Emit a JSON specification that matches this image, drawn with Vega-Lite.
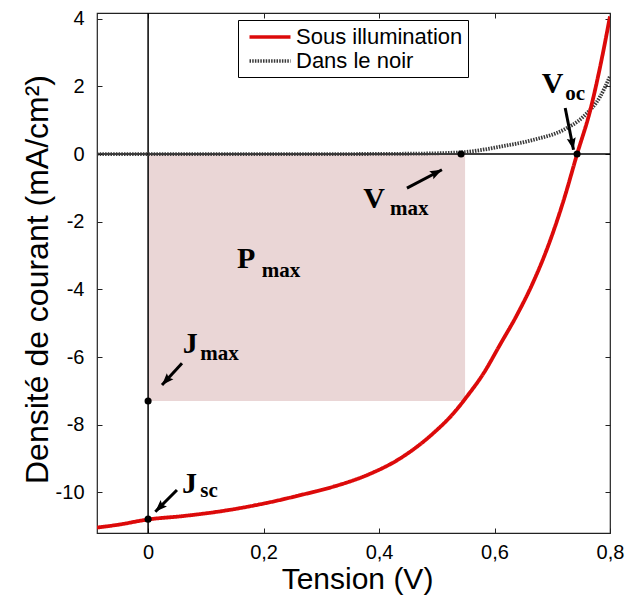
{
  "$schema": "https://vega.github.io/schema/vega-lite/v6.json",
  "width": 513,
  "height": 520,
  "autosize": {"type": "none"},
  "padding": {"left": 97, "top": 13, "right": 17, "bottom": 63},
  "background": "white",
  "config": {
    "view": {"stroke": "#222", "strokeWidth": 1.2},
    "font": "Liberation Sans"
  },
  "datasets": {
    "curves": [
      {"V": -0.0885, "J": 0, "series": "Dans le noir"},
      {"V": 0.3, "J": 0, "series": "Dans le noir"},
      {"V": 0.45, "J": 0.01, "series": "Dans le noir"},
      {"V": 0.541, "J": 0.05, "series": "Dans le noir"},
      {"V": 0.61, "J": 0.22, "series": "Dans le noir"},
      {"V": 0.667, "J": 0.42, "series": "Dans le noir"},
      {"V": 0.72, "J": 0.72, "series": "Dans le noir"},
      {"V": 0.754, "J": 1.11, "series": "Dans le noir"},
      {"V": 0.783, "J": 1.7, "series": "Dans le noir"},
      {"V": 0.8, "J": 2.3, "series": "Dans le noir"},
      {"V": -0.0885, "J": -11.04, "series": "Sous illumination"},
      {"V": -0.05, "J": -10.95, "series": "Sous illumination"},
      {"V": 0, "J": -10.8, "series": "Sous illumination"},
      {"V": 0.06, "J": -10.7, "series": "Sous illumination"},
      {"V": 0.14, "J": -10.52, "series": "Sous illumination"},
      {"V": 0.2, "J": -10.33, "series": "Sous illumination"},
      {"V": 0.264, "J": -10.08, "series": "Sous illumination"},
      {"V": 0.321, "J": -9.83, "series": "Sous illumination"},
      {"V": 0.379, "J": -9.49, "series": "Sous illumination"},
      {"V": 0.437, "J": -8.99, "series": "Sous illumination"},
      {"V": 0.494, "J": -8.25, "series": "Sous illumination"},
      {"V": 0.529, "J": -7.66, "series": "Sous illumination"},
      {"V": 0.552, "J": -7.17, "series": "Sous illumination"},
      {"V": 0.581, "J": -6.48, "series": "Sous illumination"},
      {"V": 0.61, "J": -5.62, "series": "Sous illumination"},
      {"V": 0.639, "J": -4.75, "series": "Sous illumination"},
      {"V": 0.665, "J": -3.86, "series": "Sous illumination"},
      {"V": 0.691, "J": -2.8, "series": "Sous illumination"},
      {"V": 0.72, "J": -1.35, "series": "Sous illumination"},
      {"V": 0.743, "J": 0, "series": "Sous illumination"},
      {"V": 0.766, "J": 1.31, "series": "Sous illumination"},
      {"V": 0.783, "J": 2.59, "series": "Sous illumination"},
      {"V": 0.8, "J": 4.07, "series": "Sous illumination"}
    ],
    "shade": [{"V0": 0, "V1": 0.549, "J0": 0, "J1": -7.3}],
    "keypoints": [
      {"name": "Jsc", "V": 0, "J": -10.79},
      {"name": "Jmax", "V": 0, "J": -7.3},
      {"name": "Vmax", "V": 0.542, "J": 0},
      {"name": "Voc", "V": 0.743, "J": 0}
    ],
    "arrows": [
      {"name": "Voc", "V0": 0.7224, "J0": 1.36, "V1": 0.7368, "J1": 0.127, "angle": 169},
      {"name": "Vmax", "V0": 0.4483, "J0": -1.006, "V1": 0.5089, "J1": -0.464, "angle": 62.8},
      {"name": "Jmax", "V0": 0.0587, "J0": -6.18, "V1": 0.0241, "J1": -6.825, "angle": 222.6},
      {"name": "Jsc", "V0": 0.05, "J0": -9.93, "V1": 0.0125, "J1": -10.57, "angle": 225}
    ],
    "labels": [
      {"V": 0.682, "J": 1.8, "text": "V", "part": "main"},
      {"V": 0.7224, "J": 1.61, "text": "oc", "part": "sub"},
      {"V": 0.3727, "J": -1.59, "text": "V", "part": "main"},
      {"V": 0.419, "J": -1.8, "text": "max", "part": "sub"},
      {"V": 0.154, "J": -3.37, "text": "P", "part": "main"},
      {"V": 0.197, "J": -3.62, "text": "max", "part": "sub"},
      {"V": 0.06, "J": -5.88, "text": "J", "part": "main"},
      {"V": 0.0904, "J": -6.09, "text": "max", "part": "sub"},
      {"V": 0.0587, "J": -10.02, "text": "J", "part": "main"},
      {"V": 0.0904, "J": -10.13, "text": "sc", "part": "sub"}
    ]
  },
  "resolve": {"axis": {"x": "independent", "y": "independent"}},
  "layer": [
    {
      "data": {"name": "shade"},
      "mark": {"type": "rect", "color": "#ead6d6"},
      "encoding": {
        "x": {
          "field": "V0", "type": "quantitative",
          "scale": {"domain": [-0.0885, 0.8], "nice": false, "zero": false},
          "axis": {
            "orient": "bottom", "values": [0, 0.2, 0.4, 0.6, 0.8],
            "labelExpr": "datum.value == 0 ? '0' : replace(format(datum.value, '.1f'), '.', ',')",
            "tickSize": -5, "labelPadding": 14, "labelFontSize": 20, "labelColor": "black",
            "labelFlush": false, "labelOverlap": false,
            "tickColor": "#222", "domain": false, "grid": false,
            "title": "Tension (V)", "titleFontSize": 30, "titleFontWeight": "normal", "titleColor": "black",
            "titleX": 260, "titleY": 55, "titleBaseline": "alphabetic", "titleAlign": "center"
          }
        },
        "x2": {"field": "V1"},
        "y": {
          "field": "J0", "type": "quantitative",
          "scale": {"domain": [-11.2, 4.17], "nice": false, "zero": false},
          "axis": {
            "orient": "left", "values": [-10, -8, -6, -4, -2, 0, 2, 4],
            "labelExpr": "'' + datum.value",
            "tickSize": -5, "labelPadding": 18, "labelFontSize": 20, "labelColor": "black",
            "labelFlush": false, "labelOverlap": false,
            "tickColor": "#222", "domain": false, "grid": false,
            "title": "Densité de courant (mA/cm²)", "titleFontSize": 32, "titleFontWeight": "normal", "titleColor": "black",
            "titleX": -50, "titleY": 266, "titleBaseline": "alphabetic", "titleAlign": "center", "titleAngle": -90
          }
        },
        "y2": {"field": "J1"}
      }
    },
    {
      "data": {"values": [{}]},
      "mark": {"type": "rule", "color": "black", "strokeWidth": 1.5},
      "encoding": {"x": {"datum": 0, "type": "quantitative", "axis": null}}
    },
    {
      "data": {"values": [{}]},
      "mark": {"type": "rule", "color": "black", "strokeWidth": 1.5},
      "encoding": {"y": {"datum": 0, "type": "quantitative", "axis": null}}
    },
    {
      "data": {"name": "curves"},
      "mark": {"type": "line", "strokeWidth": 3.8, "clip": true, "interpolate": "monotone"},
      "encoding": {
        "x": {"field": "V", "type": "quantitative", "axis": null},
        "y": {"field": "J", "type": "quantitative", "axis": null},
        "color": {
          "field": "series", "type": "nominal",
          "scale": {"domain": ["Sous illumination", "Dans le noir"], "range": ["#dc0a0a", "#3a3a3a"]},
          "legend": {
            "orient": "none", "legendX": 141, "legendY": 7, "title": null,
            "strokeColor": "black", "fillColor": "white", "padding": 5, "cornerRadius": 0,
            "labelFontSize": 22, "labelColor": "black", "labelFont": "Liberation Sans", "labelLimit": 400,
            "symbolType": "M-2,0H2", "symbolSize": 420, "symbolStrokeWidth": 3.5,
            "symbolOffset": 15, "labelOffset": 14, "rowPadding": 1
          }
        },
        "strokeDash": {
          "field": "series", "type": "nominal",
          "scale": {"domain": ["Sous illumination", "Dans le noir"], "range": [[1, 0], [1.5, 1.2]]},
          "legend": {
            "orient": "none", "legendX": 141, "legendY": 7, "title": null,
            "strokeColor": "black", "fillColor": "white", "padding": 5, "cornerRadius": 0,
            "labelFontSize": 22, "labelColor": "black", "labelFont": "Liberation Sans", "labelLimit": 400,
            "symbolType": "M-2,0H2", "symbolSize": 420, "symbolStrokeWidth": 3.5,
            "symbolOffset": 15, "labelOffset": 14, "rowPadding": 1
          }
        }
      }
    },
    {
      "data": {"name": "keypoints"},
      "mark": {"type": "circle", "color": "black", "size": 50, "opacity": 1},
      "encoding": {
        "x": {
          "field": "V", "type": "quantitative",
          "axis": {"orient": "top", "values": [0, 0.2, 0.4, 0.6, 0.8], "labels": false, "tickSize": -5, "tickColor": "#222", "domain": false, "grid": false, "title": null}
        },
        "y": {
          "field": "J", "type": "quantitative",
          "axis": {"orient": "right", "values": [-10, -8, -6, -4, -2, 0, 2, 4], "labels": false, "tickSize": -5, "tickColor": "#222", "domain": false, "grid": false, "title": null}
        }
      }
    },
    {
      "data": {"name": "arrows"},
      "mark": {"type": "rule", "color": "black", "strokeWidth": 3},
      "encoding": {
        "x": {"field": "V0", "type": "quantitative", "axis": null},
        "y": {"field": "J0", "type": "quantitative", "axis": null},
        "x2": {"field": "V1"},
        "y2": {"field": "J1"}
      }
    },
    {
      "data": {"name": "arrows"},
      "mark": {"type": "point", "shape": "M0,0L0.5,1.33L0,1.1L-0.5,1.33Z", "filled": true, "color": "black", "opacity": 1, "size": 324},
      "encoding": {
        "x": {"field": "V1", "type": "quantitative", "axis": null},
        "y": {"field": "J1", "type": "quantitative", "axis": null},
        "angle": {"field": "angle", "type": "quantitative", "scale": null}
      }
    },
    {
      "data": {"name": "labels"},
      "transform": [{"filter": "datum.part == 'main'"}],
      "mark": {"type": "text", "font": "Liberation Serif", "fontWeight": "bold", "fontSize": 30, "align": "left", "baseline": "alphabetic", "color": "black"},
      "encoding": {
        "x": {"field": "V", "type": "quantitative", "axis": null},
        "y": {"field": "J", "type": "quantitative", "axis": null},
        "text": {"field": "text"}
      }
    },
    {
      "data": {"name": "labels"},
      "transform": [{"filter": "datum.part == 'sub'"}],
      "mark": {"type": "text", "font": "Liberation Serif", "fontWeight": "bold", "fontSize": 21, "align": "left", "baseline": "alphabetic", "color": "black"},
      "encoding": {
        "x": {"field": "V", "type": "quantitative", "axis": null},
        "y": {"field": "J", "type": "quantitative", "axis": null},
        "text": {"field": "text"}
      }
    }
  ]
}
